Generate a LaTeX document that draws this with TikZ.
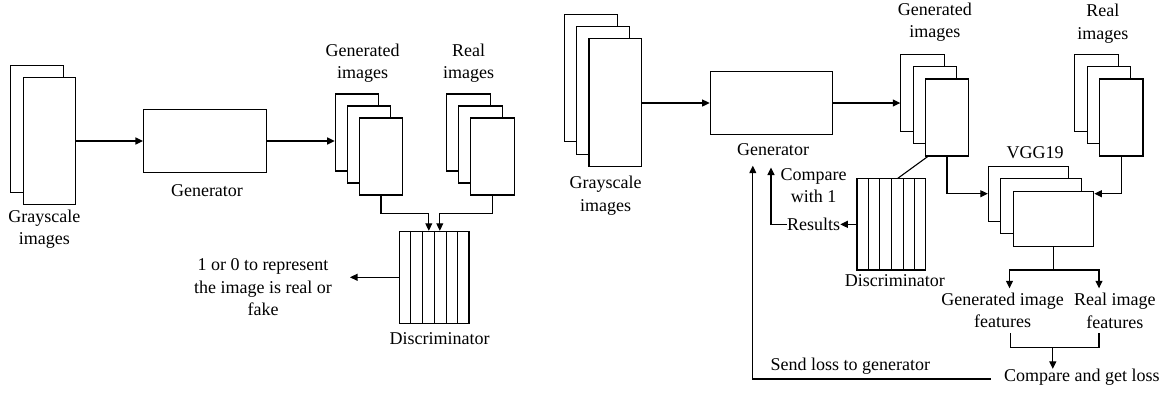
\documentclass[tikz,border=0pt]{standalone}
\usepackage{fontspec}
\setmainfont{Liberation Serif}
\usetikzlibrary{arrows.meta,calc}
\begin{document}
\begin{tikzpicture}[x=1pt,y=-1pt,
  box/.style={draw,fill=white,line width=1.1pt,inner sep=0pt},
  img/.style={box,minimum width=43.5pt,minimum height=77pt},
  gray/.style={box,minimum width=52.5pt,minimum height=127.5pt},
  vgg/.style={box,minimum width=80.5pt,minimum height=55pt},
  lbl/.style={font=\fontsize{18}{22.5}\selectfont,align=center,inner sep=0pt},
  arr/.style={line width=1.1pt,-{Triangle[length=7.5pt,width=7pt]}},
  ln/.style={line width=1.1pt}]
\useasboundingbox (0,0) rectangle (1167,392);

% ---------------- left panel ----------------
\node[gray] (lgs1) at (37,129) {};
\node[gray] (lgs2) at (49.5,141) {};
\node[lbl] (lgsl) at (44.4,229) {Grayscale\\images};

\node[box,minimum width=123pt,minimum height=63.7pt] (lgen) at (205,141) {};
\node[lbl] (lgenl) at (207,190.3) {Generator};

\node[img] (lg1) at (357,132.5) {};
\node[img] (lg2) at (369,144.5) {};
\node[img] (lg3) at (381,156.5) {};
\node[lbl] (lgl) at (362.6,63.3) {Generated\\images};

\node[img] (lr1) at (468.5,132.5) {};
\node[img] (lr2) at (480.5,144.5) {};
\node[img] (lr3) at (492.5,156.5) {};
\node[lbl] (lrl) at (468.5,63.3) {Real\\images};

\node[box,minimum width=69.4pt,minimum height=92pt] (ldisc) at (434.3,277.3) {};
\foreach \i in {1,...,5}
  \draw[ln] ($(ldisc.north west)!\i/6!(ldisc.north east)$) -- ($(ldisc.south west)!\i/6!(ldisc.south east)$);
\node[lbl] (ldiscl) at (439.6,338.3) {Discriminator};

\node[lbl] (lout) at (263,287.3) {1 or 0 to represent\\the image is real or\\fake};
\coordinate (loutc) at (350,277.3);

\draw[arr] (lgs2.east |- lgen.west) -- (lgen.west);
\draw[arr] (lgen.east) -- (lg1.west |- lgen.east);
\draw[arr] (lg3.south) -- ++(0,17.7) -| ([xshift=-5.5pt]ldisc.north);
\draw[arr] (lr3.south) -- ++(0,17.7) -| ([xshift=5.5pt]ldisc.north);
\draw[arr] (ldisc.west) -- (loutc);

% ---------------- right panel ----------------
\node[gray] (rgs1) at (590.8,78) {};
\node[gray] (rgs2) at (603,90.3) {};
\node[gray] (rgs3) at (615.2,102.6) {};
\node[lbl] (rgsl) at (605.7,195.5) {Grayscale\\images};

\node[box,minimum width=122pt,minimum height=63.4pt] (rgen) at (771.2,103) {};
\node[lbl] (rgenl) at (773,149.7) {Generator};

\node[img] (rg1) at (922.6,92.7) {};
\node[img] (rg2) at (934.8,105) {};
\node[img] (rg3) at (947,117.5) {};
\node[lbl] (rgl) at (934.8,22.2) {Generated\\images};

\node[img] (rr1) at (1096.6,92.7) {};
\node[img] (rr2) at (1108.9,105) {};
\node[img] (rr3) at (1121.2,117.5) {};
\node[lbl] (rrl) at (1102.8,23.6) {Real\\images};

\node[vgg] (rv1) at (1028.6,193.7) {};
\node[vgg] (rv2) at (1041.1,206.2) {};
\node[vgg] (rv3) at (1053.6,218.7) {};
\node[lbl] (rvl) at (1035,152.7) {VGG19};

\node[box,minimum width=68.8pt,minimum height=91.3pt] (rdisc) at (891.4,224.35) {};
\foreach \i in {1,...,5}
  \draw[ln] ($(rdisc.north west)!\i/6!(rdisc.north east)$) -- ($(rdisc.south west)!\i/6!(rdisc.south east)$);
\node[lbl] (rdiscl) at (894.9,281) {Discriminator};

\node[lbl] (res) at (813.6,224.5) {Results};
\node[lbl] (cmp) at (813.6,185.5) {Compare\\with 1};
\coordinate (cup) at (771,167.5);

\node[lbl] (gf) at (1002.5,310.3) {Generated image\\features};
\node[lbl] (rf) at (1114.8,311) {Real image\\features};
\coordinate (split) at (1053.6,270);
\coordinate (gfin) at (1009.5,288.3);
\coordinate (rfin) at (1099,288.3);
\coordinate (gfo) at (1010.3,333.3);
\coordinate (rfo) at (1099,333.3);
\coordinate (merge) at (1052.8,347.7);

\node[lbl] (cgl) at (1081.9,377.3) {Compare and get loss};
\node[lbl] (send) at (850.4,366) {Send loss to generator};
\coordinate (fbs) at (990.9,379);
\coordinate (fbe) at (752.8,165.7);

\draw[arr] (rgs3.east |- rgen.west) -- (rgen.west);
\draw[arr] (rgen.east) -- (rg1.west |- rgen.east);
\draw[ln] ($(rg3.south west)+(3,0)$) -- ($(rdisc.north)+(6.6,0)$);
\draw[arr] (rg3.south) |- (rv1.west);
\draw[arr] (rr3.south) |- (rv3.east |- rv1.west);
\draw[arr] (rdisc.west) -- (res.east |- rdisc.west);
\draw[arr] (res.west |- rdisc.west) -| (cup);
\draw[ln] (rv3.south) -- (split);
\draw[arr] (split) -| (gfin);
\draw[arr] (split) -| (rfin);
\draw[ln] (gfo) |- (merge) -| (rfo);
\draw[arr] (merge) -- (cgl.north -| merge);
\draw[arr] (fbs) -| (fbe);
\end{tikzpicture}
\end{document}
